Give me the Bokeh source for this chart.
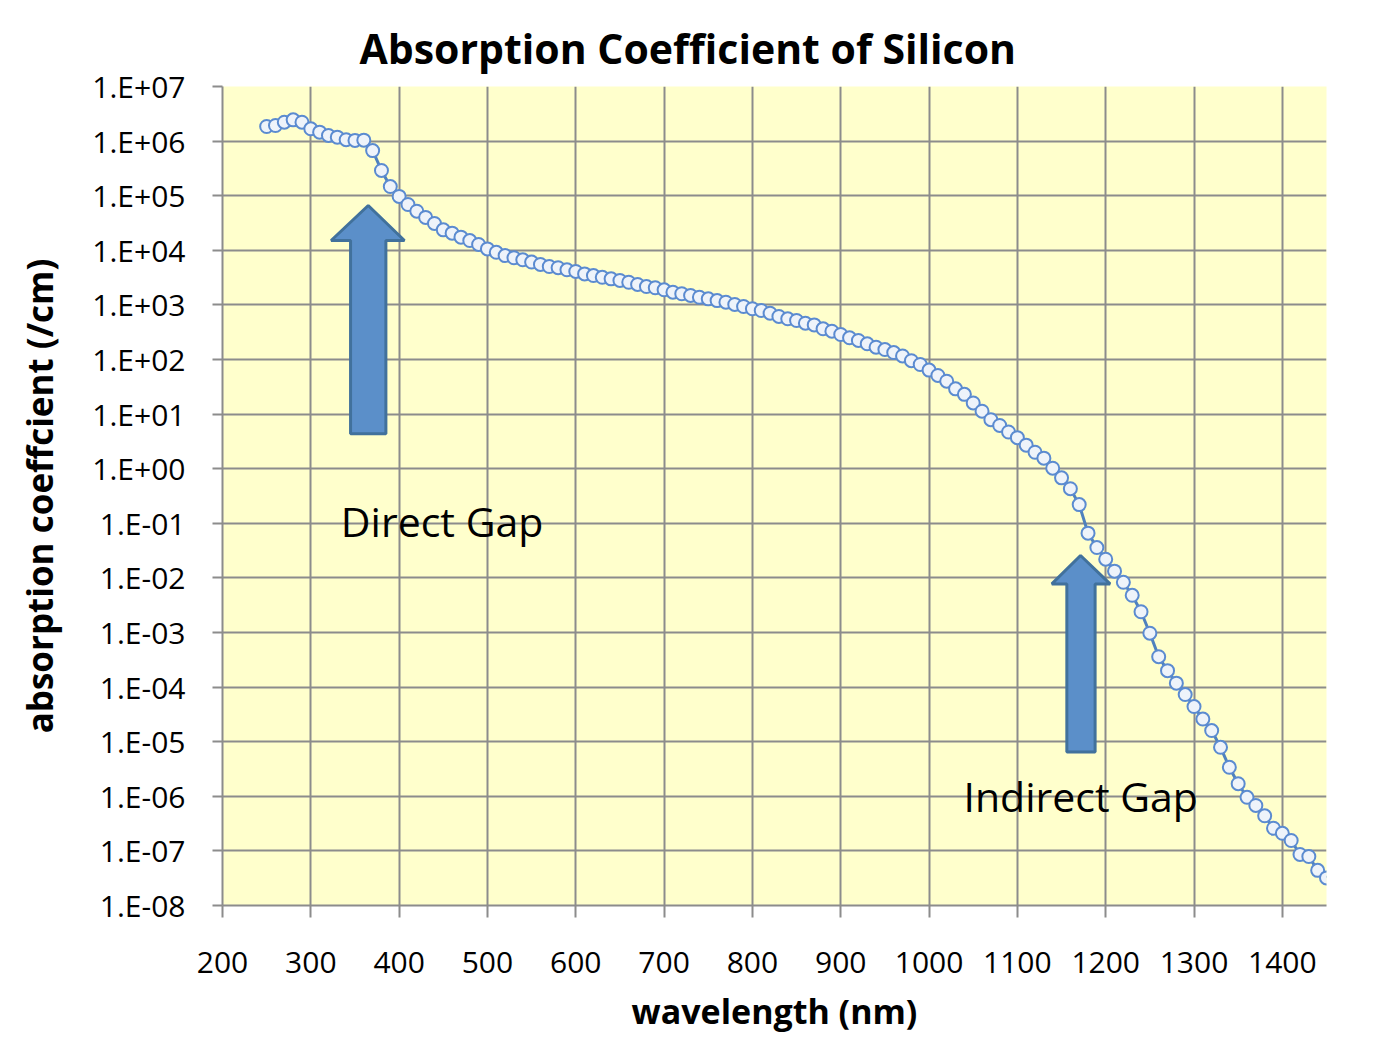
from bokeh.plotting import figure
from bokeh.models import Range1d, FixedTicker, CustomJSTickFormatter, ColumnDataSource, Label
from bokeh.embed import file_html
from bokeh.resources import INLINE

# ---------------- data ----------------
wavelength_nm = [
    250, 260, 270, 280, 290, 300, 310, 320, 330, 340,
    350, 360, 370, 380, 390, 400, 410, 420, 430, 440,
    450, 460, 470, 480, 490, 500, 510, 520, 530, 540,
    550, 560, 570, 580, 590, 600, 610, 620, 630, 640,
    650, 660, 670, 680, 690, 700, 710, 720, 730, 740,
    750, 760, 770, 780, 790, 800, 810, 820, 830, 840,
    850, 860, 870, 880, 890, 900, 910, 920, 930, 940,
    950, 960, 970, 980, 990, 1000, 1010, 1020, 1030, 1040,
    1050, 1060, 1070, 1080, 1090, 1100, 1110, 1120, 1130, 1140,
    1150, 1160, 1170, 1180, 1190, 1200, 1210, 1220, 1230, 1240,
    1250, 1260, 1270, 1280, 1290, 1300, 1310, 1320, 1330, 1340,
    1350, 1360, 1370, 1380, 1390, 1400, 1410, 1420, 1430, 1440,
    1450,
]
absorption_per_cm = [
    1.85e6, 1.93e6, 2.22e6, 2.45e6, 2.22e6, 1.68e6, 1.46e6, 1.27e6, 1.18e6, 1.06e6,
    1.03e6, 1.04e6, 6.7e5, 2.9e5, 1.47e5, 9.7e4, 6.9e4, 5.2e4, 4.0e4, 3.1e4,
    2.37e4, 2.06e4, 1.74e4, 1.51e4, 1.28e4, 1.06e4, 9.2e3, 8.0e3, 7.3e3, 6.7e3,
    6.1e3, 5.5e3, 5.05e3, 4.8e3, 4.4e3, 4.1e3, 3.7e3, 3.45e3, 3.2e3, 3.0e3,
    2.8e3, 2.6e3, 2.37e3, 2.17e3, 2.06e3, 1.89e3, 1.71e3, 1.6e3, 1.49e3, 1.38e3,
    1.29e3, 1.2e3, 1.12e3, 1.02e3, 935, 850, 790, 705, 614, 556,
    518, 462, 430, 365, 330, 287, 250, 223, 194, 168,
    152, 134, 116, 95, 81, 64, 51, 40, 29, 23,
    16, 11.3, 7.9, 6.2, 4.7, 3.7, 2.7, 2.0, 1.56, 1.02,
    0.68, 0.43, 0.22, 0.066, 0.036, 0.022, 0.0133, 0.0083, 4.8e-3, 2.4e-3,
    9.7e-4, 3.6e-4, 2.0e-4, 1.18e-4, 7.3e-5, 4.4e-5, 2.6e-5, 1.6e-5, 7.9e-6, 3.4e-6,
    1.7e-6, 9.6e-7, 6.8e-7, 4.4e-7, 2.6e-7, 2.1e-7, 1.55e-7, 8.6e-8, 7.9e-8, 4.4e-8,
    3.2e-8,
]
x_tick_values = [200, 300, 400, 500, 600, 700, 800, 900, 1000, 1100, 1200, 1300, 1400]
y_tick_values = [1e-8, 1e-7, 1e-6, 1e-5, 1e-4, 1e-3, 1e-2, 1e-1,
                 1e0, 1e1, 1e2, 1e3, 1e4, 1e5, 1e6, 1e7]

title_text = "Absorption Coefficient of Silicon"
x_label = "wavelength (nm)"
y_label = "absorption coeffcient (/cm)"
direct_text = "Direct Gap"
indirect_text = "Indirect Gap"

FONT = "Open Sans"
GRID = "#8C8C8C"

src = ColumnDataSource(dict(x=wavelength_nm, y=absorption_per_cm))

p = figure(width=1366, height=1038, output_backend="svg", toolbar_location=None,
           y_axis_type="log",
           x_range=Range1d(200, 1450), y_range=Range1d(1e-8, 1e7),
           min_border_left=222, min_border_top=86, min_border_right=40,
           min_border_bottom=133)

p.background_fill_color = "#FFFFCC"
p.border_fill_color = "white"
p.outline_line_color = None

# title
p.title.text = title_text
p.title.text_font = FONT
p.title.text_font_size = "41px"
p.title.text_font_style = "bold"
p.title.text_color = "black"
p.title.align = "left"
p.title.offset = 137
p.title.standoff = 22

# axes
p.xaxis.ticker = FixedTicker(ticks=x_tick_values)
p.yaxis.ticker = FixedTicker(ticks=y_tick_values)
p.yaxis.formatter = CustomJSTickFormatter(code="""
const e = Math.round(Math.log10(tick));
const a = Math.abs(e);
const s = a < 10 ? '0' + a : '' + a;
return '1.E' + (e < 0 ? '-' : '+') + s;
""")
for ax in (p.xaxis, p.yaxis):
    ax.axis_line_color = GRID
    ax.axis_line_width = 2
    ax.major_tick_line_color = GRID
    ax.major_tick_line_width = 2
    ax.major_tick_in = 0
    ax.minor_tick_line_color = None
    ax.major_label_text_font = FONT
    ax.major_label_text_font_size = "30px"
    ax.major_label_text_color = "black"
    ax.axis_label_text_font = FONT
    ax.axis_label_text_font_size = "34px"
    ax.axis_label_text_font_style = "bold"
    ax.axis_label_text_color = "black"

p.yaxis.axis_label_text_font_size = "35px"
p.xaxis.major_tick_out = 12
p.yaxis.major_tick_out = 10
p.xaxis.major_label_standoff = 34
p.yaxis.major_label_standoff = 27
p.xaxis.axis_label = x_label
p.yaxis.axis_label = y_label
p.xaxis.axis_label_standoff = 12
p.yaxis.axis_label_standoff = 26

p.xgrid.grid_line_color = GRID
p.ygrid.grid_line_color = GRID
p.xgrid.grid_line_width = 2
p.ygrid.grid_line_width = 2

# arrows (annotation shapes, data coordinates)
def arrow(xl, xr, hl, hr, tx, ty, hy, by):
    return ([xl, xr, xr, hr, tx, hl, xl], [by, by, hy, hy, ty, hy, hy])

a1x, a1y = arrow(345, 385, 323, 406, 365, 10 ** 4.82, 10 ** 4.18, 10 ** 0.64)
a2x, a2y = arrow(1156, 1188, 1139, 1205, 1171.5, 10 ** -1.59, 10 ** -2.11, 10 ** -5.19)
p.patches(xs=[a1x, a2x], ys=[a1y, a2y], fill_color="#5B8FC9",
          line_color="#41719C", line_width=3)

# series
p.line("x", "y", source=src, line_color="#4F81BD", line_width=3)
p.scatter("x", "y", source=src, size=13, marker="circle",
          fill_color="#EEF3FA", line_color="#5B8BD0", line_width=2)

p.add_layout(Label(x=334, y=10 ** -0.95, text=direct_text, text_font=FONT,
                   text_font_size="41px", text_color="black",
                   text_baseline="alphabetic"))
p.add_layout(Label(x=1039, y=10 ** -6.0, text=indirect_text, text_font=FONT,
                   text_font_size="41px", text_color="black",
                   text_baseline="alphabetic"))

open("out.html", "w").write(file_html(p, INLINE))
